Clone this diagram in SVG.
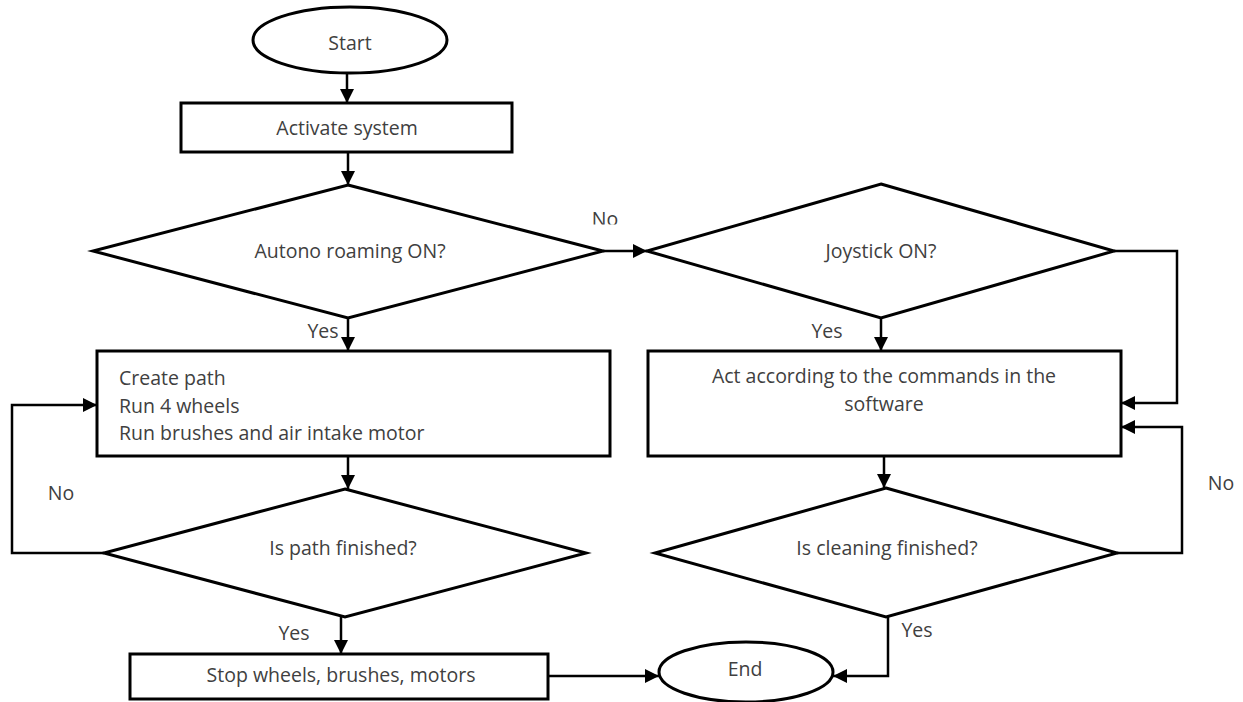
<svg xmlns="http://www.w3.org/2000/svg" width="1243" height="702" viewBox="0 0 1243 702">
<defs>
<marker id="ah" markerUnits="userSpaceOnUse" markerWidth="16" markerHeight="16" refX="14" refY="7" orient="auto">
<path d="M0,0 L14,7 L0,14 Z" fill="#000"/>
</marker>
<clipPath id="clipNo"><rect x="580" y="200" width="50" height="24.5"/></clipPath>
</defs>
<style>
.shape{fill:#fff;stroke:#000;stroke-width:3}
.conn{fill:none;stroke:#000;stroke-width:2.5;marker-end:url(#ah)}
text{font-family:"Open Sans","Noto Sans",sans-serif;font-size:19.5px;fill:#404040}
.c{text-anchor:middle}
</style>
<rect width="1243" height="702" fill="#fff"/>
<g id="connectors">
<path class="conn" d="M347,73 L347,103"/>
<path class="conn" d="M348,152 L348,185"/>
<path class="conn" d="M603,251 L647,251"/>
<path class="conn" d="M348,318 L348,351"/>
<path class="conn" d="M881,318 L881,351"/>
<path class="conn" d="M1114,251 L1177,251 L1177,403 L1121,403"/>
<path class="conn" d="M348,456 L348,489"/>
<path class="conn" d="M104,553 L12,553 L12,405 L97,405"/>
<path class="conn" d="M341,617 L341,654"/>
<path class="conn" d="M548,676 L659,676"/>
<path class="conn" d="M884,456 L884,488"/>
<path class="conn" d="M1117,553 L1182,553 L1182,427 L1121,427"/>
<path class="conn" d="M888,617 L888,676 L833,676"/>
</g>
<g id="labels">
<text x="605" y="226" class="c" clip-path="url(#clipNo)">No</text>
<text x="323" y="338" class="c">Yes</text>
<text x="827" y="338" class="c">Yes</text>
<text x="61" y="500" class="c">No</text>
<text x="294" y="640" class="c">Yes</text>
<text x="917" y="637" class="c">Yes</text>
<text x="1221" y="490" class="c">No</text>
</g>
<g id="start">
<ellipse class="shape" cx="350" cy="40" rx="97" ry="33"/>
<text x="350" y="50" class="c">Start</text>
</g>
<g id="activate">
<rect class="shape" x="181" y="103" width="331" height="49"/>
<text x="347" y="135" class="c">Activate system</text>
</g>
<g id="autono">
<polygon class="shape" points="348,185 603,251 348,318 93,251"/>
<text x="350" y="258" class="c">Autono roaming ON?</text>
</g>
<g id="joystick">
<polygon class="shape" points="881,184 1114,251 881,318 647,251"/>
<text x="881" y="258" class="c">Joystick ON?</text>
</g>
<g id="create">
<rect class="shape" x="97" y="351" width="513" height="105"/>
<text x="119" y="385">Create path</text>
<text x="119" y="413">Run 4 wheels</text>
<text x="119" y="440">Run brushes and air intake motor</text>
</g>
<g id="act">
<rect class="shape" x="648" y="351" width="473" height="105"/>
<text x="884" y="383" class="c">Act according to the commands in the</text>
<text x="884" y="411" class="c">software</text>
</g>
<g id="pathfinished">
<polygon class="shape" points="345,489 586,553 345,617 104,553"/>
<text x="343" y="555" class="c">Is path finished?</text>
</g>
<g id="cleaningfinished">
<polygon class="shape" points="886,488 1117,553 886,617 655,553"/>
<text x="887" y="555" class="c">Is cleaning finished?</text>
</g>
<g id="stop">
<rect class="shape" x="130" y="654" width="418" height="45"/>
<text x="341" y="682" class="c">Stop wheels, brushes, motors</text>
</g>
<g id="end">
<ellipse class="shape" cx="746" cy="672" rx="87" ry="30"/>
<text x="745" y="676" class="c">End</text>
</g>
</svg>
